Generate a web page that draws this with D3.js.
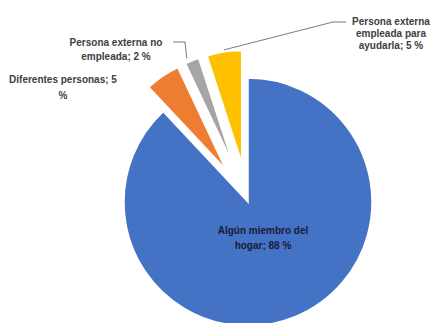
<!DOCTYPE html>
<html><head><meta charset="utf-8">
<script src="https://cdn.jsdelivr.net/npm/d3@7"></script>
<style>body{margin:0;background:#fff}svg{display:block}text{font-family:"Liberation Sans",Arial,sans-serif;font-weight:bold;fill:#404040;font-size:10px}</style>
</head><body><svg id="c" width="435" height="323"></svg>
<script>
const categories = ["Algún miembro del hogar", "Diferentes personas", "Persona externa no empleada", "Persona externa empleada para ayudarla"];
const values = [88, 5, 2, 5];
const colors = ["#4472C4", "#ED7D31", "#A5A5A5", "#FFC000"];
const labelLines = [
  ["Algún miembro del", "hogar; 88 %"],
  ["Diferentes personas; 5", "%"],
  ["Persona externa no", "empleada; 2 %"],
  ["Persona externa", "empleada para", "ayudarla; 5 %"]
];
const explode = [0, 40, 40, 40];

const svg = d3.select("#c");
const cx = 248, cy = 202;
const g = svg.append("g").attr("transform", `translate(${cx},${cy})`);
const pie = d3.pie().sort(null).value(d => d)(values);
const radius = i => i === 0 ? 124 : 112;

pie.forEach((p, i) => {
  const mid = (p.startAngle + p.endAngle) / 2;
  const ox = Math.sin(mid) * explode[i], oy = -Math.cos(mid) * explode[i];
  const arc = d3.arc().innerRadius(0).outerRadius(radius(i));
  p.off = [ox, oy]; p.mid = mid;
  g.append("path").attr("d", arc(p)).attr("transform", `translate(${ox},${oy})`)
    .attr("fill", colors[i]).attr("stroke", "#fff").attr("stroke-width", 1.5);
});

function outerPt(i, extra) {
  const p = pie[i], r = radius(i) + extra;
  return [cx + p.off[0] + Math.sin(p.mid) * r, cy + p.off[1] - Math.cos(p.mid) * r];
}

// labels
const labelPos = [[263, 234, 15], [63, 83, 16], [116, 46, 14], [391, 25, 12]];
labelLines.forEach((lines, i) => {
  const [x, y, lh] = labelPos[i];
  const t = svg.append("text").attr("text-anchor", "middle").attr("x", x).attr("y", y)
    .style("fill", i === 0 ? "#1a1a3a" : "#404040");
  lines.forEach((l, k) => t.append("tspan").attr("x", x).attr("dy", k === 0 ? 0 : lh).text(l));
});

// leader lines
const line = d3.line();
const gp = outerPt(2, -2);
svg.append("path").attr("d", line([[173, 42], [185, 42], [gp[0] - 6, gp[1] - 4]]))
  .attr("fill", "none").attr("stroke", "#595959").attr("stroke-width", 0.8);
const yp = outerPt(3, 2);
svg.append("path").attr("d", line([[346, 22], [333, 22], [yp[0], yp[1]]]))
  .attr("fill", "none").attr("stroke", "#595959").attr("stroke-width", 0.8);
</script></body></html>
